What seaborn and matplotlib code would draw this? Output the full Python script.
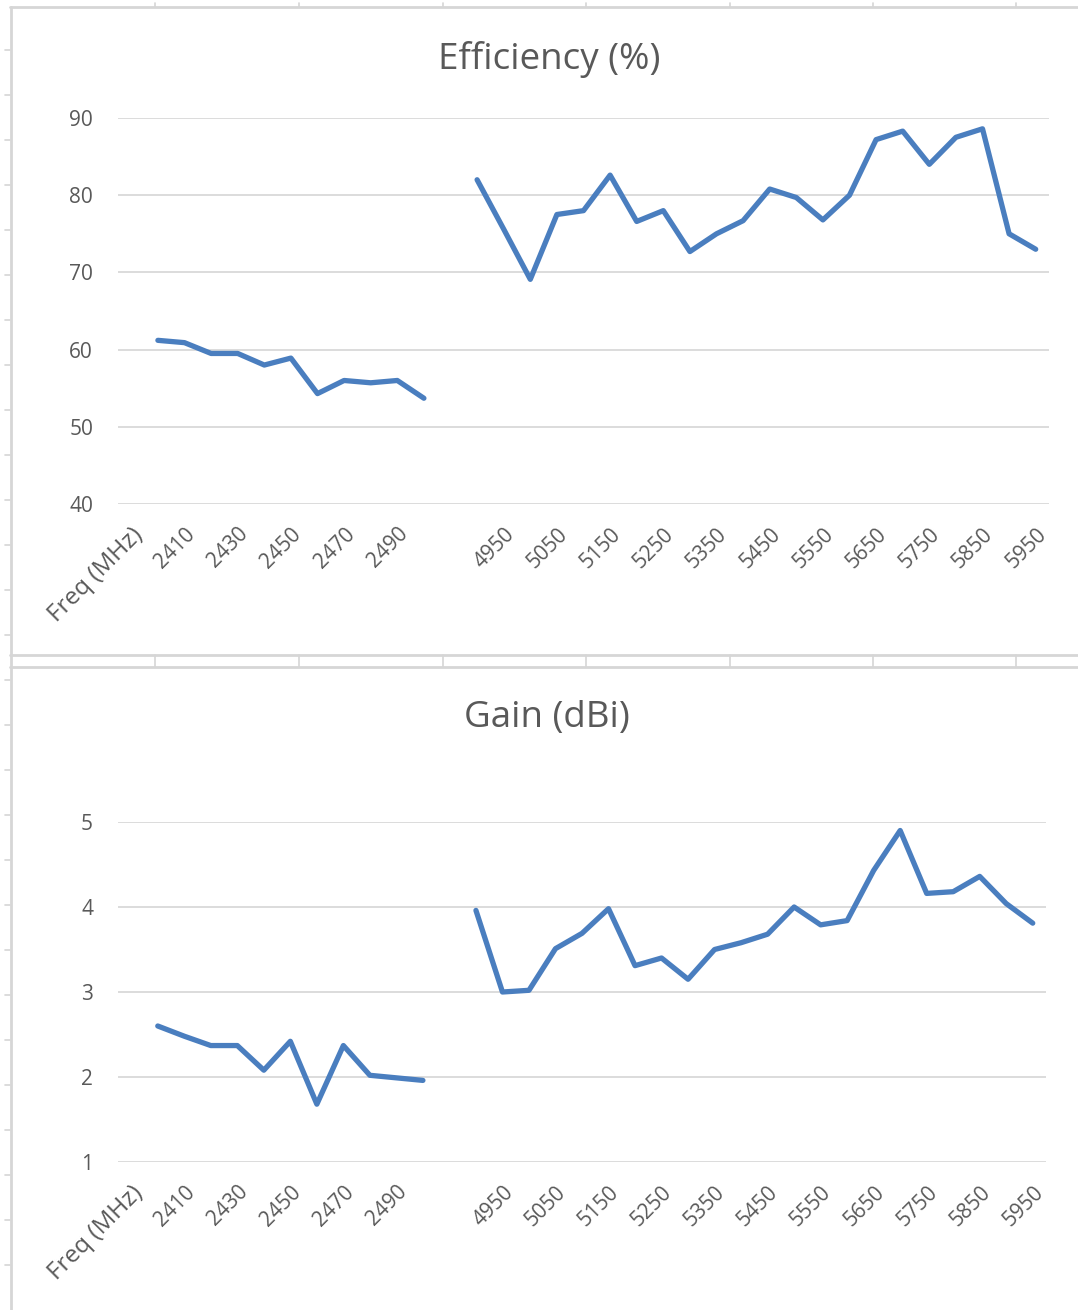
import numpy as np
import pandas as pd
import matplotlib
matplotlib.use("Agg")
import matplotlib.pyplot as plt
import seaborn as sns
from matplotlib.lines import Line2D

# ---------------- data ----------------
header_label = "Freq (MHz)"
freq_24 = [2400, 2410, 2420, 2430, 2440, 2450, 2460, 2470, 2480, 2490, 2500]
freq_5 = [4900, 4950, 5000, 5050, 5100, 5150, 5200, 5250, 5300, 5350, 5400,
          5450, 5500, 5550, 5600, 5650, 5700, 5750, 5800, 5850, 5900, 5950]

eff_24 = [61.2, 60.9, 59.5, 59.5, 58.0, 58.9, 54.3, 56.0, 55.7, 56.0, 53.7]
eff_5 = [82.0, 75.6, 69.1, 77.5, 78.0, 82.6, 76.6, 78.0, 72.7, 75.0, 76.7,
         80.8, 79.7, 76.8, 80.0, 87.2, 88.3, 84.0, 87.5, 88.6, 75.0, 73.0]

gain_24 = [2.60, 2.48, 2.37, 2.37, 2.08, 2.42, 1.68, 2.37, 2.02, 1.99, 1.96]
gain_5 = [3.96, 3.00, 3.02, 3.51, 3.69, 3.98, 3.31, 3.40, 3.15, 3.50, 3.58,
          3.68, 4.00, 3.79, 3.84, 4.43, 4.90, 4.16, 4.18, 4.36, 4.04, 3.81]

eff_title = "Efficiency (%)"
gain_title = "Gain (dBi)"
eff_yticks = [40, 50, 60, 70, 80, 90]
gain_yticks = [1, 2, 3, 4, 5]

# category axis: header row, 2.4 GHz rows, blank row, 5 GHz rows
categories = [header_label] + [str(f) for f in freq_24] + [""] + [str(f) for f in freq_5]
n_cat = len(categories)
pos_24 = list(range(1, 1 + len(freq_24)))
pos_5 = list(range(len(freq_24) + 2, len(freq_24) + 2 + len(freq_5)))


def make_df(v24, v5):
    return pd.DataFrame({
        "pos": pos_24 + pos_5,
        "value": list(v24) + list(v5),
        "band": ["2.4"] * len(v24) + ["5"] * len(v5),
    })


# ---------------- style ----------------
sns.set_theme(style="white")
plt.rcParams["font.family"] = ["Open Sans", "DejaVu Sans"]

W, H = 1078, 1310
fig = plt.figure(figsize=(W / 100, H / 100), dpi=100)
fig.patch.set_facecolor("white")

LINE_COLOR = "#4A7EBF"
GRID_COLOR = "#D9D9D9"
TEXT_COLOR = "#595959"
BORDER = "#D6D6D6"


def px_axes(x0, x1, ytop, ybot):
    return fig.add_axes([x0 / W, 1 - ybot / H, (x1 - x0) / W, (ybot - ytop) / H])


def style_axes(ax, yticks):
    ax.set_xlim(-0.5, n_cat - 0.5)
    ax.set_ylim(yticks[0], yticks[-1])
    ax.set_yticks(yticks)
    ax.set_yticklabels([str(t) for t in yticks])
    ax.set_xticks(range(0, n_cat, 2))
    ax.set_xticklabels([categories[i] for i in range(0, n_cat, 2)],
                       rotation=45, ha="right", va="top", rotation_mode="anchor")
    ax.tick_params(axis="x", length=0, pad=14, labelsize=15, labelcolor=TEXT_COLOR)
    ax.tick_params(axis="y", length=0, pad=18, labelsize=15, labelcolor=TEXT_COLOR)
    # header label is drawn wider in the reference
    ax.get_xticklabels()[0].set_fontsize(17.5)
    ax.grid(axis="y", color=GRID_COLOR, linewidth=1.3)
    ax.grid(axis="x", visible=False)
    for s in ax.spines.values():
        s.set_visible(False)
    ax.set_xlabel("")
    ax.set_ylabel("")
    ax.set_axisbelow(True)
    ax.set_facecolor("none")


# top chart
ax1 = px_axes(118, 1049, 118, 504)
sns.lineplot(data=make_df(eff_24, eff_5), x="pos", y="value", units="band",
             estimator=None, color=LINE_COLOR, linewidth=3.8, ax=ax1,
             solid_joinstyle="round", solid_capstyle="round", clip_on=False)
style_axes(ax1, eff_yticks)
fig.text(549 / W, 1 - 60 / H, eff_title, ha="center", va="center",
         fontsize=26.5, color=TEXT_COLOR)

# bottom chart
ax2 = px_axes(118, 1046, 822, 1162)
sns.lineplot(data=make_df(gain_24, gain_5), x="pos", y="value", units="band",
             estimator=None, color=LINE_COLOR, linewidth=3.8, ax=ax2,
             solid_joinstyle="round", solid_capstyle="round", clip_on=False)
style_axes(ax2, gain_yticks)
fig.text(547 / W, 1 - 718 / H, gain_title, ha="center", va="center",
         fontsize=26.5, color=TEXT_COLOR)


# ---------------- spreadsheet borders (decoration) ----------------
def fline(x0, y0, x1, y1, lw=2.0, color=BORDER):
    fig.add_artist(Line2D([x0 / W, x1 / W], [1 - y0 / H, 1 - y1 / H],
                          color=color, linewidth=lw, transform=fig.transFigure))


fline(10, 7, W, 7)
fline(10.5, 7, 10.5, H)
fline(10, 655, W, 655)
fline(10, 667, W, 667)
for xc in [155, 299, 443, 586, 730, 873, 1016]:
    fline(xc, 3, xc, 7, lw=1.2)
    fline(xc, 655, xc, 667, lw=1.2)
for yr in range(50, H, 45):
    fline(5, yr, 10, yr, lw=1.2)

fig.savefig("out.png", dpi=100, facecolor="white")
